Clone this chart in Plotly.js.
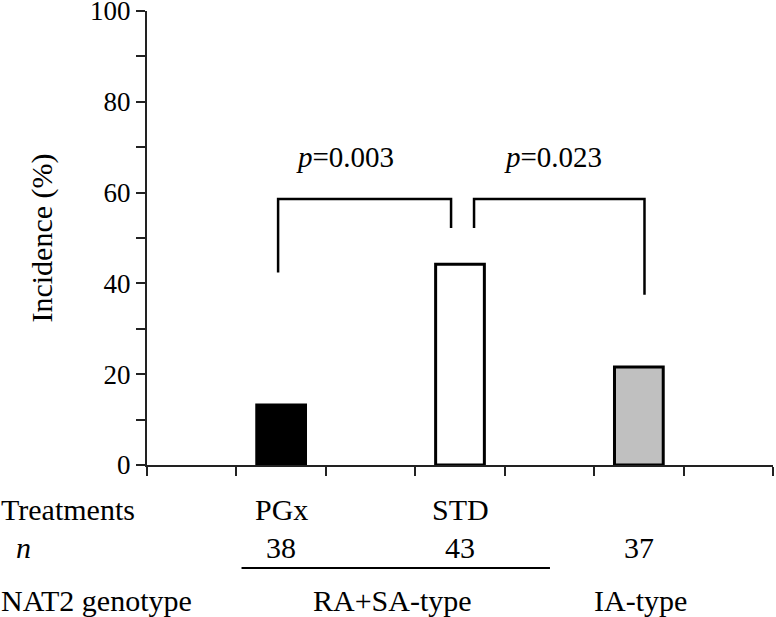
<!DOCTYPE html>
<html>
<head>
<meta charset="utf-8">
<script src="https://cdn.plot.ly/plotly-3.0.1.min.js"></script>
<style>html,body{margin:0;padding:0;background:#fff;}#chart{width:776px;height:617px;}</style>
</head>
<body>
<div id="chart"></div>
<script>
// ---- data ----
const slots = [0, 1, 2, 3, 4, 5, 6];            // 7 equal category slots along x
const barX = [1, 3, 5];                          // slot of each bar
const treatments = ["PGx", "STD", ""];
const nValues = ["38", "43", "37"];
const incidence = [13.2, 44.2, 21.6];            // %
const barColors = ["#000000", "#ffffff", "#c0c0c0"];
const genotypeLabels = ["RA+SA-type", "IA-type"];
const genotypeX = [2.25, 5.02];
const yTicks = [0, 10, 20, 30, 40, 50, 60, 70, 80, 90, 100];
const yTickText = ["0", "", "20", "", "40", "", "60", "", "80", "", "100"];
// significance brackets
const bracket1X = [0.966, 0.966, 2.90, 2.90];
const bracket1Y = [42.4, 58.6, 58.6, 52.2];
const bracket2X = [3.157, 3.157, 5.063, 5.063];
const bracket2Y = [52.2, 58.6, 58.6, 37.5];
const pLabels = ["<i>p</i>=0.003", "<i>p</i>=0.023"];
const pLabelX = [1.713, 4.04];
const pLabelY = 67.8;

const FONT = "'Liberation Serif', 'Times New Roman', serif";
const LBL = 30;

const traces = [
  {
    type: "bar", x: barX, y: incidence, width: 0.545,
    marker: {color: barColors, line: {color: "#000", width: 3}},
    hoverinfo: "skip", showlegend: false
  },
  {type: "scatter", mode: "lines", x: bracket1X, y: bracket1Y,
   line: {color: "#000", width: 2.5}, showlegend: false, hoverinfo: "skip", cliponaxis: false},
  {type: "scatter", mode: "lines", x: bracket2X, y: bracket2Y,
   line: {color: "#000", width: 2.5}, showlegend: false, hoverinfo: "skip", cliponaxis: false}
];

const rowY = {treat: -0.097, n: -0.181, geno: -0.298};
const annotations = [];
// p-values
pLabels.forEach((t, i) => annotations.push({
  text: t, x: pLabelX[i], y: pLabelY, xref: "x", yref: "y", showarrow: false,
  font: {family: FONT, size: 29, color: "#000"}
}));
// row labels
annotations.push({text: "Treatments", x: 0, xref: "paper", xanchor: "left", xshift: -148,
  y: rowY.treat, yref: "paper", yanchor: "middle", showarrow: false, font: {family: FONT, size: LBL, color: "#000"}});
annotations.push({text: "<i>n</i>", x: 0, xref: "paper", xanchor: "left", xshift: -133,
  y: rowY.n, yref: "paper", yanchor: "middle", showarrow: false, font: {family: FONT, size: LBL, color: "#000"}});
annotations.push({text: "NAT2 genotype", x: 0, xref: "paper", xanchor: "left", xshift: -148,
  y: rowY.geno, yref: "paper", yanchor: "middle", showarrow: false, font: {family: FONT, size: LBL, color: "#000"}});
treatments.forEach((t, i) => { if (t) annotations.push({
  text: t, x: barX[i], xref: "x", y: rowY.treat, yref: "paper", yanchor: "middle", showarrow: false,
  font: {family: FONT, size: LBL, color: "#000"}}); });
nValues.forEach((t, i) => annotations.push({
  text: t, x: barX[i], xref: "x", y: rowY.n, yref: "paper", yanchor: "middle", showarrow: false,
  font: {family: FONT, size: LBL, color: "#000"}}));
genotypeLabels.forEach((t, i) => annotations.push({
  text: t, x: genotypeX[i], xref: "x", y: rowY.geno, yref: "paper", yanchor: "middle", showarrow: false,
  font: {family: FONT, size: LBL, color: "#000"}}));

const layout = {
  width: 776, height: 617,
  margin: {l: 147, r: 3, t: 11, b: 152},
  paper_bgcolor: "#fff", plot_bgcolor: "#fff",
  font: {family: FONT, color: "#000"},
  xaxis: {
    range: [-0.5, 6.5], showgrid: false, zeroline: false,
    tickmode: "array", tickvals: [-0.5, 0.5, 1.5, 2.5, 3.5, 4.5, 5.5, 6.5], ticktext: ["", "", "", "", "", "", "", ""],
    ticks: "outside", ticklen: 9, tickwidth: 2, tickcolor: "#222",
    showline: true, linecolor: "#222", linewidth: 2, fixedrange: true
  },
  yaxis: {
    range: [0, 100], showgrid: false, zeroline: false,
    tickmode: "array", tickvals: yTicks, ticktext: yTickText,
    ticks: "outside", ticklen: 9, tickwidth: 2, tickcolor: "#222",
    showline: true, linecolor: "#222", linewidth: 2,
    ticklabeloverflow: "allow",
    tickfont: {family: FONT, size: 27, color: "#000"},
    title: {text: "Incidence (%)", font: {family: FONT, size: 30, color: "#000"}, standoff: 29},
    fixedrange: true
  },
  shapes: [
    {type: "line", xref: "x", yref: "paper", x0: 0.557, x1: 4.006, y0: -0.227, y1: -0.227,
     line: {color: "#000", width: 2}}
  ],
  annotations: annotations,
  showlegend: false
};

Plotly.newPlot("chart", traces, layout, {displayModeBar: false, staticPlot: true});
</script>
</body>
</html>
